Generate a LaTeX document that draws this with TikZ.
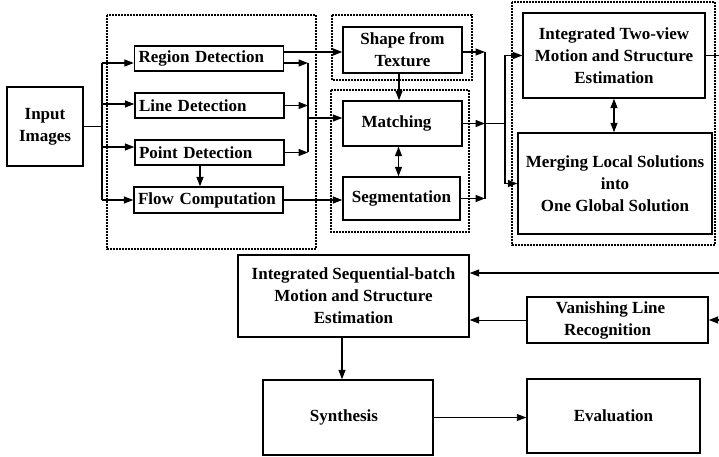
\documentclass[tikz,border=0pt]{standalone}
\usepackage{fontspec}
\setmainfont{Liberation Serif}
\usetikzlibrary{arrows.meta,calc}
\begin{document}
\begin{tikzpicture}[x=1pt,y=-1pt,
  box/.style={draw,line width=1.4pt,align=center,inner sep=0pt,
    font=\fontsize{17}{22}\selectfont\bfseries},
  lbox/.style={box,align=left,text width=141pt,inner xsep=4pt},
  grp/.style={draw,line width=1.1pt,dash pattern=on 1.6pt off 1.4pt},
  ln/.style={line width=1.3pt},
  arr/.style={ln,-{Triangle[length=9.5pt,width=7pt]}},
  darr/.style={ln,{Triangle[length=9.5pt,width=7pt]}-{Triangle[length=9.5pt,width=7pt]}},
  thinarr/.style={line width=0.9pt,-{Triangle[length=9.5pt,width=7pt]}},
]
\useasboundingbox (0,0) rectangle (719,457);

% groups
\draw[grp] (107,15) rectangle (316,249);
\draw[grp] (332,15) rectangle (472,80);
\draw[grp] (331,90) rectangle (469,232);
\draw[grp] (512,2) rectangle (715,245);

% nodes
\node[box,minimum width=76pt,minimum height=79pt] (Input) at (45,126.5) {Input\\Images};
\node[lbox,minimum height=25pt] (Region) at (209,58.5) {Region Detection};
\node[lbox,minimum height=25pt] (LineD) at (209.5,105.5) {Line Detection};
\node[lbox,minimum height=25pt] (Point) at (209.5,152.5) {Point Detection};
\node[lbox,minimum height=26pt] (Flow) at (208.5,200) {Flow Computation};
\node[box,minimum width=119pt,minimum height=46pt] (Shape) at (402.5,50) {Shape from\\Texture};
\node[box,minimum width=119pt,minimum height=45pt] (Match) at (402.5,123.5) {Matching\hspace*{12pt}};
\node[box,minimum width=117pt,minimum height=43pt] (Seg) at (401.5,198.5) {Segmentation};
\node[box,minimum width=182pt,minimum height=85pt] (TwoView) at (614,55.5) {Integrated Two-view\\Motion and Structure\\Estimation};
\node[box,minimum width=194pt,minimum height=101pt] (Merge) at (615,183.5) {Merging Local Solutions\\into\hspace*{22pt}\\One Global Solution};
\node[box,minimum width=231pt,minimum height=82pt] (IntSeq) at (353.5,296) {Integrated Sequential-batch\\Motion and Structure\\Estimation};
\node[box,minimum width=181pt,minimum height=46pt] (Van) at (617.5,320) {Vanishing Line\hspace*{14pt}\\Recognition\hspace*{20pt}};
\node[box,minimum width=170pt,minimum height=75pt] (Synth) at (348,417.5) {Synthesis\hspace*{8pt}};
\node[box,minimum width=173pt,minimum height=74pt] (Eval) at (613.5,416) {Evaluation};

% input trunk
\coordinate (split) at (102,126.5);
\coordinate (rin) at ([yshift=-4.5pt]Region.west);
\coordinate (lin) at ([yshift=1.5pt]LineD.west);
\coordinate (pin) at ([yshift=5.5pt]Point.west);
\coordinate (fin) at (Flow.west);
\draw[ln] (Input.east) -- (split);
\draw[ln] (split |- rin) -- (split |- fin);
\draw[arr] (split |- rin) -- (rin);
\draw[arr] (split |- lin) -- (lin);
\draw[arr] (split |- pin) -- (pin);
\draw[arr] (split |- fin) -- (fin);

% detection outputs
\coordinate (m1) at (308,118);
\coordinate (rout) at ([yshift=-4.5pt]Region.east);
\coordinate (rtop) at ([yshift=6.5pt]Region.east);
\draw[arr] (rout) -- (m1 |- rout);
\draw[arr] (LineD.east) -- (m1 |- LineD.east);
\draw[arr] (Point.east) -- (m1 |- Point.east);
\draw[ln] (m1 |- rout) -- (m1 |- Point.east);
\draw[arr] (m1) -- (m1 -| Match.west);
\draw[arr] (rtop) -- (rtop -| Shape.west);
\draw[arr] (Flow.east) -- (Flow.east -| Seg.west);
\draw[arr] ([xshift=-9.5pt]Point.south) -- ([xshift=-9.5pt]Point.south |- Flow.north);

% middle column
\draw[arr] ([xshift=-3.5pt]Shape.south) -- ([xshift=-3.5pt]Shape.south |- Match.north);
\draw[darr] ([xshift=-4pt]Match.south) -- ([xshift=-4pt]Match.south |- Seg.north);

\coordinate (m2) at (485,123.5);
\coordinate (sout) at ([yshift=-2pt]Shape.east);
\draw[arr] (sout) -- (m2 |- sout);
\draw[arr] (Match.east) -- (m2);
\draw[arr] (Seg.east) -- (m2 |- Seg.east);
\draw[ln] (m2 |- sout) -- (m2 |- Seg.east);
\coordinate (m3) at (505,123.5);
\draw[ln] (m2) -- (m3);
\draw[ln] (m3 |- TwoView.west) -- (m3 |- Merge.west);
\draw[arr] (m3 |- TwoView.west) -- (TwoView.west);
\draw[arr] (m3 |- Merge.west) -- (Merge.west);

% right column
\draw[darr] (TwoView.south) -- (TwoView.south |- Merge.north);
\coordinate (e1) at (719,57);
\coordinate (e2) at (719,273);
\coordinate (e3) at (719,320);
\draw[ln] (TwoView.east) -- (TwoView.east -| e1);
\draw[arr] (e2) -- (e2 -| IntSeq.east);
\draw[arr] (e3) -- (e3 -| Van.east);
\draw[thinarr] (Van.west) -- (Van.west -| IntSeq.east);

% bottom
\draw[arr] ([xshift=-6pt]Synth.north |- IntSeq.south) -- ([xshift=-6pt]Synth.north);
\draw[thinarr] (Synth.east) -- (Synth.east -| Eval.west);
\end{tikzpicture}
\end{document}
